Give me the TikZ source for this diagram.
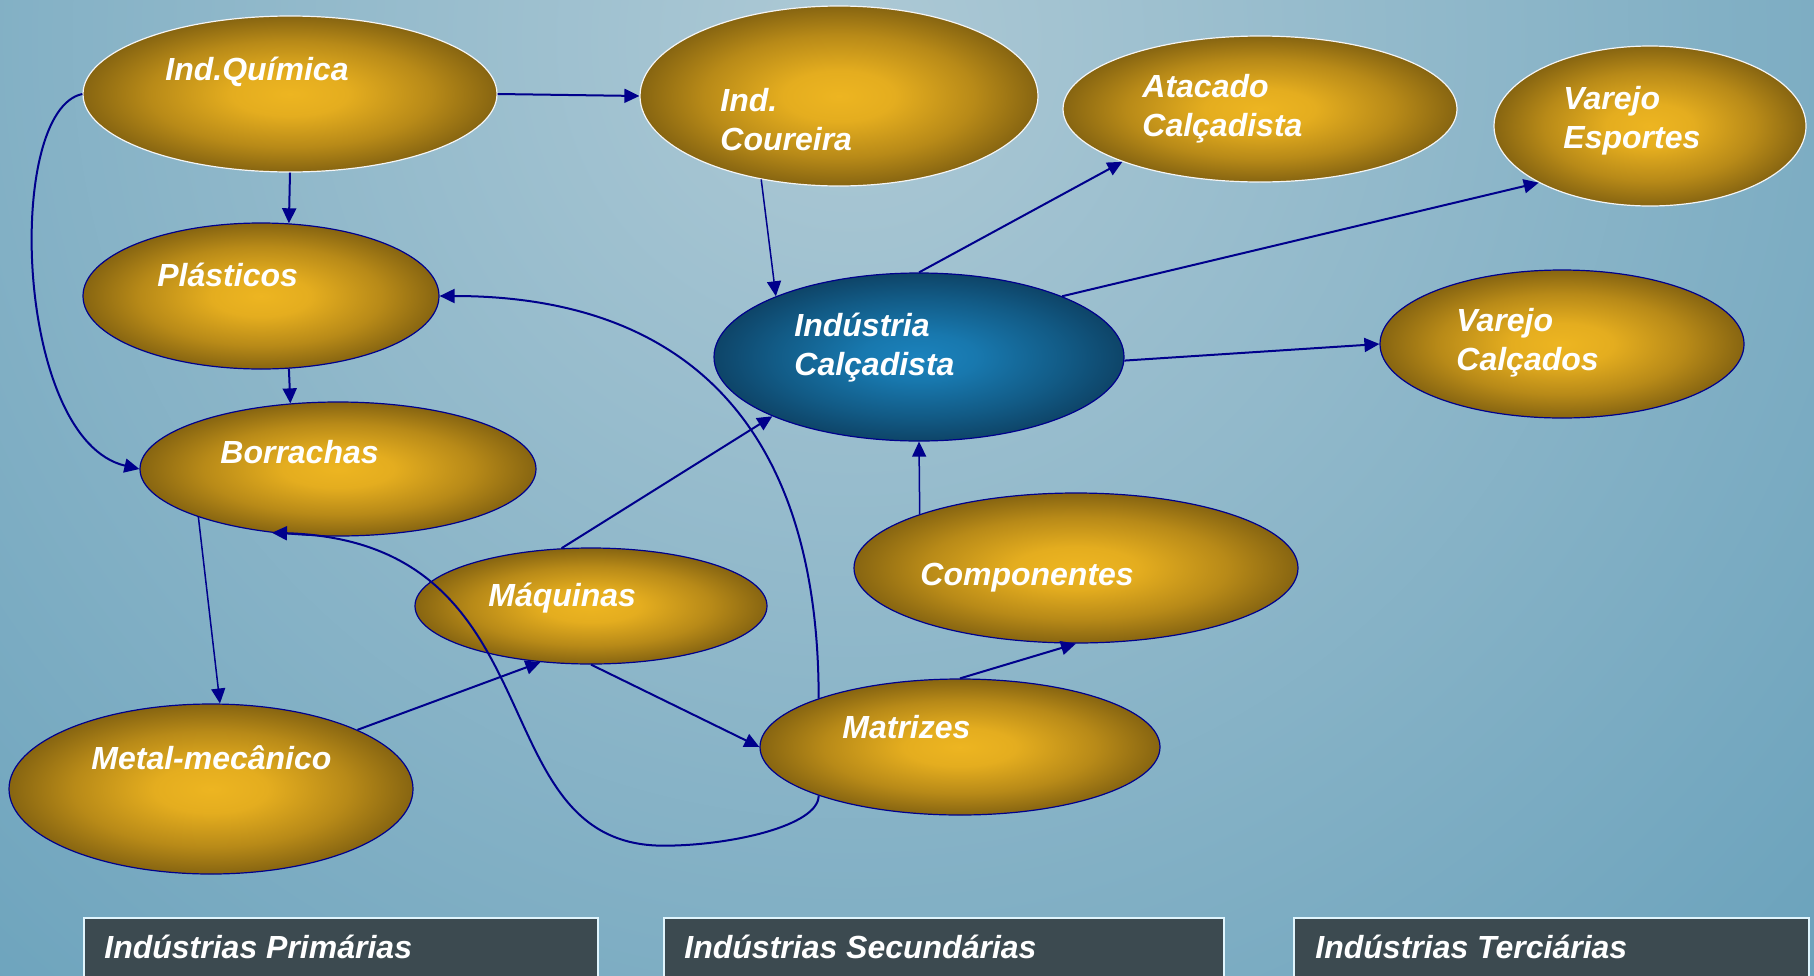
\documentclass[tikz,border=0pt]{standalone}
\usepackage{fontspec}
\setmainfont{Liberation Sans}
\usetikzlibrary{arrows.meta, shapes.geometric}

\definecolor{linkblue}{HTML}{00008C}
\definecolor{bgin}{HTML}{ADC9D5}
\definecolor{bgout}{HTML}{609CB8}
\definecolor{boxfill}{HTML}{3C4A50}
\definecolor{goldA}{HTML}{EDB521}
\definecolor{goldB}{HTML}{E4AD1F}
\definecolor{goldC}{HTML}{B88A18}
\definecolor{goldD}{HTML}{876511}
\definecolor{goldE}{HTML}{5C440A}
\definecolor{goldF}{HTML}{3A2905}
\definecolor{blueA}{HTML}{1B82BC}
\definecolor{blueB}{HTML}{1878AE}
\definecolor{blueC}{HTML}{125B86}
\definecolor{blueD}{HTML}{0D4062}
\definecolor{blueE}{HTML}{0A2D47}
\definecolor{blueF}{HTML}{081F33}

\pgfdeclareradialshading{goldball}{\pgfpoint{0bp}{0bp}}{color(0bp)=(goldA); color(7bp)=(goldB); color(17bp)=(goldC); color(25bp)=(goldD); color(31.5bp)=(goldE); color(35.4bp)=(goldF); color(100bp)=(goldF)}
\pgfdeclareradialshading{blueball}{\pgfpoint{0bp}{0bp}}{color(0bp)=(blueA); color(7bp)=(blueB); color(17.7bp)=(blueC); color(26.5bp)=(blueD); color(32.5bp)=(blueE); color(35.4bp)=(blueF); color(100bp)=(blueF)}

\tikzset{
  blob/.style={ellipse, inner sep=0pt, shade, shading=goldball, draw=linkblue, line width=0.6pt},
  rim/.style={draw=white!92!gray},
  hub/.style={blob, shading=blueball},
  lbl/.style={text=white, font=\fontsize{16}{19.2}\selectfont\bfseries\itshape, inner sep=0pt, anchor=base west, align=left},
  link/.style={draw=linkblue, line width=1pt, -{Triangle[length=7.5pt, width=7pt]}},
  thin link/.style={link, line width=0.75pt},
  catbox/.style={fill=boxfill, draw=white!88!cyan, line width=0.9pt, inner sep=0pt, anchor=north west}
}

\begin{document}
\begin{tikzpicture}[x=0.5pt, y=-0.5pt]
    \useasboundingbox (0,0) rectangle (1814,975);
    \clip (0,0) rectangle (1814,975);
    \fill[bgout] (0,0) rectangle (1814,975);
    \shade[inner color=bgin, outer color=bgout] (850,40) circle (778pt);

    \node[blob, rim, minimum width=207pt, minimum height=78pt] (quimica) at (290,94) {};
    \node[blob, rim, minimum width=199pt, minimum height=90pt] (coureira) at (839,96) {};
    \node[blob, rim, minimum width=197pt, minimum height=73pt] (atacado) at (1260,109) {};
    \node[blob, rim, minimum width=156pt, minimum height=80pt] (esportes) at (1650,126) {};
    \node[blob, minimum width=178pt, minimum height=73pt] (plasticos) at (261,296) {};
    \node[blob, minimum width=198pt, minimum height=67pt] (borrachas) at (338,469) {};
    \node[blob, minimum width=176pt, minimum height=58pt] (maquinas) at (591,606) {};
    \node[blob, minimum width=202pt, minimum height=85pt] (metal) at (211,789) {};
    \node[blob, minimum width=200pt, minimum height=68pt] (matrizes) at (960,747) {};
    \node[blob, minimum width=222pt, minimum height=75pt] (componentes) at (1076,568) {};
    \node[hub, minimum width=205pt, minimum height=84pt] (calcadista) at (919,357) {};
    \node[blob, minimum width=182pt, minimum height=74pt] (calcados) at (1562,344) {};

    \node[lbl] (quimicaL) at (165,80) {Ind.Química};
    \node[lbl] (coureiraL) at (720,150) {Ind.\\Coureira};
    \node[lbl] (atacadoL) at (1142,136) {Atacado\\Calçadista};
    \node[lbl] (esportesL) at (1563,148) {Varejo\\Esportes};
    \node[lbl] (plasticosL) at (157,286) {Plásticos};
    \node[lbl] (borrachasL) at (220,463) {Borrachas};
    \node[lbl] (maquinasL) at (488,606) {Máquinas};
    \node[lbl] (metalL) at (91,769) {Metal-mecânico};
    \node[lbl] (matrizesL) at (842,738) {Matrizes};
    \node[lbl] (componentesL) at (920,585) {Componentes};
    \node[lbl] (calcadistaL) at (794,375) {Indústria\\Calçadista};
    \node[lbl] (calcadosL) at (1456,370) {Varejo\\Calçados};

    \draw[link] (quimica.east) -- (coureira.west);
    \draw[link] (quimica.south) -- (plasticos.69);
    \draw[link] (plasticos.-69) -- (borrachas.126);
    \draw[link] (quimica.west) .. controls +(-78,16) and +(-125,-29) .. (borrachas.west);
    \draw[thin link] (borrachas.199) -- (metal.84);
    \draw[link] (metal.22) -- (maquinas.228);
    \draw[link] (maquinas.117) -- (calcadista.202);
    \draw[link] (maquinas.south) -- (matrizes.west);
    \draw[link] (matrizes.north) -- (componentes.south);
    \draw[thin link] (componentes.161) -- (calcadista.south);
    \draw[thin link] (coureira.227) -- (calcadista.157);
    \draw[link] (calcadista.north) -- (atacado.201);
    \draw[link] (calcadista.23) -- (esportes.207);
    \draw[link] (calcadista.-1) -- (calcados.west);
    \draw[link] (matrizes.161) .. controls +(0,-279) and +(240,0) .. (plasticos.east);
    \draw[link] (matrizes.199) .. controls +(0,30) and +(67,0) .. +(-155,50)
        .. controls +(-188,0) and +(291,9) .. (borrachas.224);

    \node[catbox, minimum width=257pt, minimum height=40pt] (primBox) at (83,917) {};
    \node[catbox, minimum width=280pt, minimum height=40pt] (secBox) at (663,917) {};
    \node[catbox, minimum width=257.5pt, minimum height=40pt] (terBox) at (1293,917) {};
    \node[lbl] (primL) at (104,958) {Indústrias Primárias};
    \node[lbl] (secL) at (684,958) {Indústrias Secundárias};
    \node[lbl] (terL) at (1315,958) {Indústrias Terciárias};
\end{tikzpicture}
\end{document}
